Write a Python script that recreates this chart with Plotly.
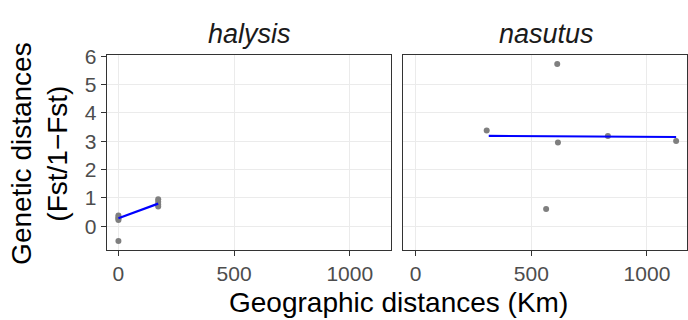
import plotly.graph_objects as go

# Data
halysis_x = [0, 0, 0, 0, 0, 172, 172, 172, 172]
halysis_y = [0.38, 0.32, 0.27, 0.22, -0.52, 0.95, 0.87, 0.77, 0.70]
halysis_fit_x = [0, 172]
halysis_fit_y = [0.28, 0.80]

nasutus_x = [307, 612, 615, 564, 831, 1126]
nasutus_y = [3.38, 5.73, 2.96, 0.61, 3.19, 3.01]
nasutus_fit_x = [316, 1126]
nasutus_fit_y = [3.19, 3.15]

panel_titles = ["halysis", "nasutus"]
x_ticks = [0, 500, 1000]
y_ticks = [0, 1, 2, 3, 4, 5, 6]

FONT = "Liberation Sans, Arial, sans-serif"
PT_COLOR = "#7f7f7f"
LINE_COLOR = "#0000ff"

fig = go.Figure()
fig.add_trace(go.Scatter(x=halysis_x, y=halysis_y, mode="markers",
                         marker=dict(color=PT_COLOR, size=6), xaxis="x", yaxis="y",
                         showlegend=False))
fig.add_trace(go.Scatter(x=halysis_fit_x, y=halysis_fit_y, mode="lines",
                         line=dict(color=LINE_COLOR, width=2.2), xaxis="x", yaxis="y",
                         showlegend=False))
fig.add_trace(go.Scatter(x=nasutus_x, y=nasutus_y, mode="markers",
                         marker=dict(color=PT_COLOR, size=6), xaxis="x2", yaxis="y2",
                         showlegend=False))
fig.add_trace(go.Scatter(x=nasutus_fit_x, y=nasutus_fit_y, mode="lines",
                         line=dict(color=LINE_COLOR, width=2.2), xaxis="x2", yaxis="y2",
                         showlegend=False))

W, H = 688, 320
ydom = [1 - 247 / H, 1 - 46 / H]
common_x = dict(showline=True, mirror=True, linecolor="#333333", linewidth=1.2,
                showgrid=True, gridcolor="#EBEBEB", gridwidth=1.2, zeroline=False,
                tickmode="array", tickvals=x_ticks, ticks="outside", ticklen=5,
                tickcolor="#333333", tickfont=dict(family=FONT, size=21, color="#4D4D4D"))
common_y = dict(showline=True, mirror=True, linecolor="#333333", linewidth=1.2,
                showgrid=True, gridcolor="#EBEBEB", gridwidth=1.2, zeroline=False,
                tickmode="array", tickvals=y_ticks, range=[-0.82, 6.03], domain=ydom)

fig.update_layout(
    width=W, height=H, margin=dict(l=0, r=0, t=0, b=0),
    paper_bgcolor="white", plot_bgcolor="white",
    font=dict(family=FONT),
    xaxis=dict(domain=[107 / W, 392 / W], range=[-50, 1180], anchor="y", **common_x),
    xaxis2=dict(domain=[404 / W, 1.0], range=[-53, 1173], anchor="y2", **common_x),
    yaxis=dict(anchor="x", ticks="outside", ticklen=5, tickcolor="#333333",
               tickfont=dict(family=FONT, size=21, color="#4D4D4D"), **common_y),
    yaxis2=dict(anchor="x2", ticks="", showticklabels=False, **common_y),
    annotations=[
        dict(text=f"<i>{panel_titles[0]}</i>", x=249.5 / W, y=1 - 24 / H, xref="paper", yref="paper",
             showarrow=False, xanchor="center", yanchor="middle",
             font=dict(family=FONT, size=27, color="#1A1A1A")),
        dict(text=f"<i>{panel_titles[1]}</i>", x=547 / W, y=1 - 24 / H, xref="paper", yref="paper",
             showarrow=False, xanchor="center", yanchor="middle",
             font=dict(family=FONT, size=27, color="#1A1A1A")),
        dict(text="Geographic distances (Km)", x=399 / W, y=1 - 302 / H, xref="paper", yref="paper",
             showarrow=False, xanchor="center", yanchor="middle",
             font=dict(family=FONT, size=28, color="black")),
        dict(text="Genetic distances<br>(Fst/1\u2212Fst)", x=40 / W, y=1 - 147 / H,
             xref="paper", yref="paper", showarrow=False, textangle=-90,
             xanchor="center", yanchor="middle",
             font=dict(family=FONT, size=28, color="black")),
    ],
)

fig.write_html("out.html")
